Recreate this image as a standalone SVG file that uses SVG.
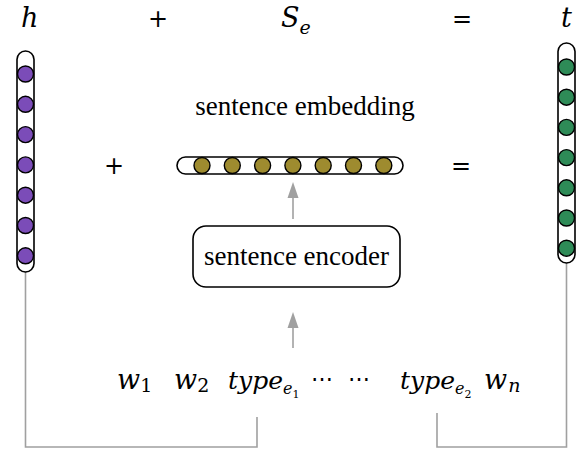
<svg xmlns="http://www.w3.org/2000/svg" width="585" height="452" viewBox="0 0 585 452">
  <style>
    .math { font-family: "DejaVu Serif", "Liberation Serif", serif; font-style: italic; fill: #000; }
    .op { font-family: "DejaVu Sans", "Liberation Sans", sans-serif; font-size: 24px; fill: #000; }
    .dots { font-family: "DejaVu Serif", "Liberation Serif", serif; font-size: 22px; fill: #000; }
    .label { font-family: "Liberation Serif", "Times New Roman", serif; font-size: 27px; fill: #000; }
    .capsule { fill: #fff; stroke: #000; stroke-width: 1.6; }
    .conn { fill: none; stroke: #a0a0a0; stroke-width: 1.6; }
    .head { fill: #a0a0a0; }
    .dot { stroke: #000; stroke-width: 1.4; }
    .h { fill: #7b4cb8; }
    .t { fill: #2e8b57; }
    .s { fill: #9e8b2f; }
  </style>

  <!-- equation header: h + S_e = t -->
  <g id="equation">
    <text class="math" x="21" y="27" font-size="27">h</text>
    <text class="op" x="158" y="27" text-anchor="middle">+</text>
    <text class="math" x="281" y="27" font-size="27">S<tspan font-size="19" dy="7">e</tspan></text>
    <text class="op" x="462" y="27" text-anchor="middle">=</text>
    <text class="math" x="561" y="27" font-size="27">t</text>
  </g>

  <!-- connectors -->
  <g id="connectors">
    <path class="conn" d="M25.5,272 V447 H257 V417"/>
    <path class="conn" d="M566.5,263 V447 H437 V413"/>
    <line class="conn" x1="293" y1="219" x2="293" y2="196"/>
    <polygon class="head" points="293,182 287.5,198 298.5,198"/>
    <line class="conn" x1="293" y1="348" x2="293" y2="326"/>
    <polygon class="head" points="293,312 287.5,328 298.5,328"/>
  </g>

  <!-- head entity vector h -->
  <g id="head-vector">
    <rect class="capsule" x="17" y="51" width="17" height="221" rx="8.5"/>
    <circle class="dot h" cx="25.5" cy="74" r="8"/>
    <circle class="dot h" cx="25.5" cy="104.3" r="8"/>
    <circle class="dot h" cx="25.5" cy="134.6" r="8"/>
    <circle class="dot h" cx="25.5" cy="164.9" r="8"/>
    <circle class="dot h" cx="25.5" cy="195.2" r="8"/>
    <circle class="dot h" cx="25.5" cy="225.5" r="8"/>
    <circle class="dot h" cx="25.5" cy="255.8" r="8"/>
  </g>

  <!-- tail entity vector t -->
  <g id="tail-vector">
    <rect class="capsule" x="558" y="43" width="17" height="220" rx="8.5"/>
    <circle class="dot t" cx="566.5" cy="67" r="8"/>
    <circle class="dot t" cx="566.5" cy="97.2" r="8"/>
    <circle class="dot t" cx="566.5" cy="127.4" r="8"/>
    <circle class="dot t" cx="566.5" cy="157.6" r="8"/>
    <circle class="dot t" cx="566.5" cy="187.8" r="8"/>
    <circle class="dot t" cx="566.5" cy="218" r="8"/>
    <circle class="dot t" cx="566.5" cy="248.2" r="8"/>
  </g>

  <!-- sentence embedding vector -->
  <g id="sentence-embedding">
    <text class="label" x="305" y="115" text-anchor="middle">sentence embedding</text>
    <rect class="capsule" x="177" y="157" width="226" height="17" rx="8.5"/>
    <circle class="dot s" cx="202" cy="165.5" r="8"/>
    <circle class="dot s" cx="232.3" cy="165.5" r="8"/>
    <circle class="dot s" cx="262.6" cy="165.5" r="8"/>
    <circle class="dot s" cx="292.9" cy="165.5" r="8"/>
    <circle class="dot s" cx="323.2" cy="165.5" r="8"/>
    <circle class="dot s" cx="353.5" cy="165.5" r="8"/>
    <circle class="dot s" cx="383.8" cy="165.5" r="8"/>
  </g>

  <g id="middle-operators">
    <text class="op" x="114" y="174" text-anchor="middle">+</text>
    <text class="op" x="461" y="174" text-anchor="middle">=</text>
  </g>

  <!-- sentence encoder -->
  <g id="sentence-encoder">
    <rect x="193" y="226" width="207" height="61" rx="13" fill="#fff" stroke="#000" stroke-width="1.6"/>
    <text class="label" x="296.5" y="265" text-anchor="middle">sentence encoder</text>
  </g>

  <!-- input tokens -->
  <g id="tokens">
    <text class="math" x="117" y="389" font-size="27">w<tspan font-size="19" dy="3" font-style="normal">1</tspan></text>
    <text class="math" x="174" y="389" font-size="27">w<tspan font-size="19" dy="3" font-style="normal">2</tspan></text>
    <text class="math" x="228" y="389" font-size="25">type<tspan font-size="16" dy="5">e</tspan><tspan font-size="11" dy="4" font-style="normal">1</tspan></text>
    <text class="dots" x="311" y="386">⋯</text>
    <text class="dots" x="348" y="386">⋯</text>
    <text class="math" x="400" y="389" font-size="25">type<tspan font-size="16" dy="5">e</tspan><tspan font-size="11" dy="4" font-style="normal">2</tspan></text>
    <text class="math" x="484" y="389" font-size="27">w<tspan font-size="19" dy="3" dx="1">n</tspan></text>
  </g>
</svg>
